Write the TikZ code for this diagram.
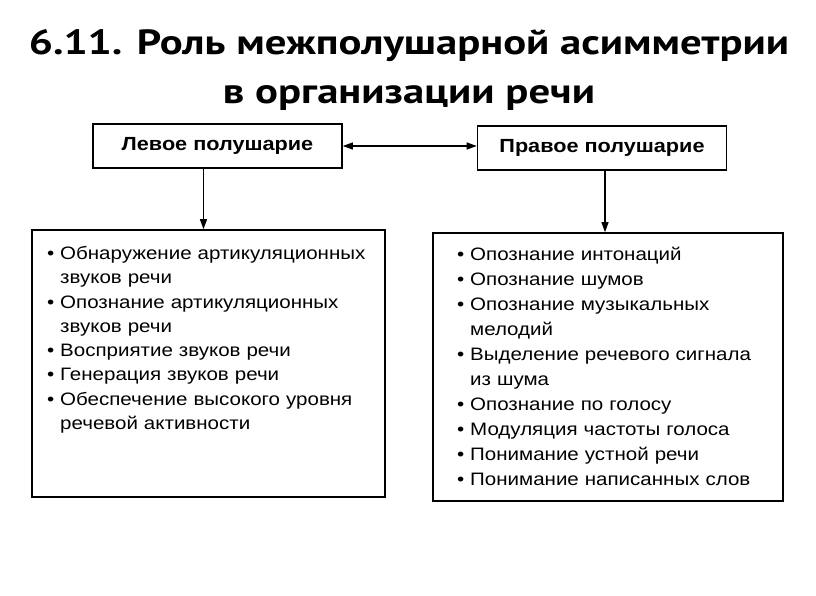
\documentclass[tikz,border=0pt]{standalone}
\usepackage{fontspec}
\setmainfont{Liberation Sans}[FakeStretch=1.14]
\newfontfamily\titlefont{PT Sans}[FakeStretch=1.22]
\usetikzlibrary{positioning,arrows.meta}

\tikzset{
  hembox/.style={draw, line width=1.6pt, minimum width=249pt, minimum height=44pt,
    font=\bfseries\fontsize{19}{20}\selectfont},
  funbox/.style={draw, line width=1.6pt},
  funlist/.style={text width=340pt, align=left, inner sep=0pt,
    font=\fontsize{18}{#1}\selectfont},
  link/.style={-{Triangle[length=10pt,width=7pt]}, line width=1.2pt}
}
\newcommand{\itm}[1]{\hangindent=13pt\hangafter=1\noindent\makebox[13pt][l]{\textbullet}#1\par}

\begin{document}
\begin{tikzpicture}[x=1pt, y=-1pt]
  \useasboundingbox (0,0) rectangle (816,596);
  % title
  \node[align=center, font=\titlefont\bfseries\fontsize{35}{49}\selectfont] (title) at (409,70)
    {6.11. Роль межполушарной асимметрии\\в организации речи};
  % hemispheres
  \node[hembox] (lhem) at (217.5,146) {Левое полушарие};
  \node[hembox] (rhem) at (602,148) {Правое полушарие};
  \draw[link, {Triangle[length=10pt,width=7pt]}-{Triangle[length=10pt,width=7pt]}] (lhem.east) -- (lhem.east -| rhem.west);
  % functions
  \node[funbox, minimum width=353pt, minimum height=267pt] (lfun) at (208.5,363.5) {};
  \node[funbox, minimum width=350pt, minimum height=268pt] (rfun) at (608,367) {};
  \draw[link] ([xshift=-14pt]lhem.south) -- ([xshift=-14pt]lhem.south |- lfun.north);
  \draw[link] ([xshift=3pt]rhem.south) -- ([xshift=3pt]rhem.south |- rfun.north);
  \node[funlist=24.3, anchor=north west] (llist) at (47,246) {%
    \itm{Обнаружение артикуляционных\newline звуков речи}
    \itm{Опознание артикуляционных\newline звуков речи}
    \itm{Восприятие звуков речи}
    \itm{Генерация звуков речи}
    \itm{Обеспечение высокого уровня\newline речевой активности}};
  \node[funlist=25, anchor=north west] (rlist) at (457,247) {%
    \itm{Опознание интонаций}
    \itm{Опознание шумов}
    \itm{Опознание музыкальных\newline мелодий}
    \itm{Выделение речевого сигнала\newline из шума}
    \itm{Опознание по голосу}
    \itm{Модуляция частоты голоса}
    \itm{Понимание устной речи}
    \itm{Понимание написанных слов}};
\end{tikzpicture}
\end{document}
